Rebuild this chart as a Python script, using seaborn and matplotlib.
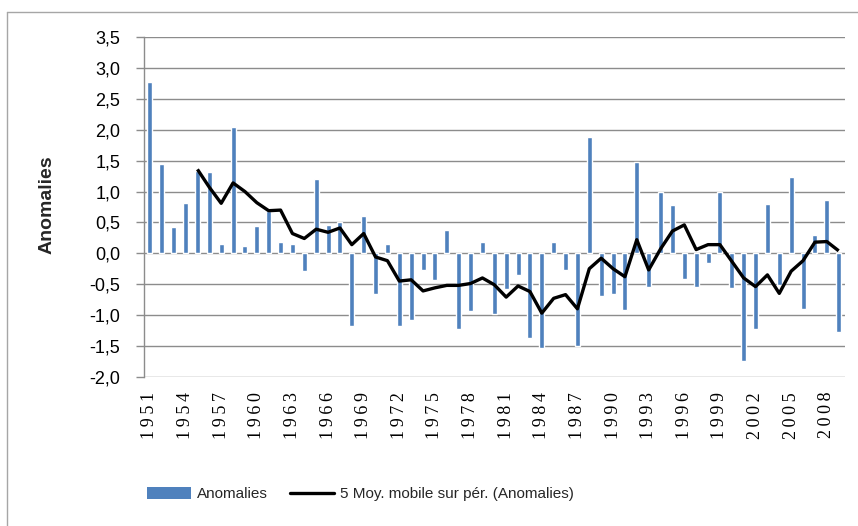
import numpy as np
import pandas as pd
import matplotlib
matplotlib.use("Agg")
import matplotlib.pyplot as plt
from matplotlib.lines import Line2D
import seaborn as sns

# Annual anomalies, 1951-2009
years = list(range(1951, 2010))
anomalies = [
    2.78, 1.44, 0.43, 0.82, 1.34, 1.32, 0.15, 2.05, 0.12, 0.45,
    0.68, 0.18, 0.15, -0.28, 1.21, 0.46, 0.50, -1.18, 0.60, -0.66,
    0.15, -1.18, -1.08, -0.27, -0.43, 0.38, -1.22, -0.93, 0.19, -0.99,
    -0.58, -0.36, -1.37, -1.53, 0.18, -0.27, -1.50, 1.88, -0.69, -0.66,
    -0.92, 1.48, -0.54, 1.00, 0.79, -0.41, -0.54, -0.15, 1.00, -0.57,
    -1.75, -1.22, 0.80, -0.52, 1.23, -0.90, 0.29, 0.86, -1.28,
]

# 5-year moving average, 1955-2009
ma_years = list(range(1955, 2010))
moving_avg = [
    1.36, 1.07, 0.81, 1.14, 1.00, 0.82, 0.69, 0.70, 0.32, 0.24,
    0.39, 0.34, 0.41, 0.14, 0.32, -0.06, -0.12, -0.45, -0.43, -0.61,
    -0.56, -0.52, -0.52, -0.49, -0.40, -0.51, -0.71, -0.53, -0.62, -0.97,
    -0.73, -0.67, -0.90, -0.25, -0.08, -0.25, -0.38, 0.22, -0.27, 0.07,
    0.36, 0.46, 0.06, 0.14, 0.14, -0.13, -0.40, -0.54, -0.35, -0.65,
    -0.29, -0.12, 0.18, 0.19, 0.04,
]

ytick_values = [-2.0, -1.5, -1.0, -0.5, 0.0, 0.5, 1.0, 1.5, 2.0, 2.5, 3.0, 3.5]
ytick_labels = ["-2,0", "-1,5", "-1,0", "-0,5", "0,0", "0,5", "1,0", "1,5",
                "2,0", "2,5", "3,0", "3,5"]
bar_label = "Anomalies"
line_label = "5 Moy. mobile sur pér. (Anomalies)"
y_title = "Anomalies"

sns.set_style("white")
plt.rcParams["font.family"] = ["Liberation Sans", "DejaVu Sans"]

BAR_BLUE = "#4F81BD"
GRID = "#8C8C8C"

W, H = 858, 526
fig = plt.figure(figsize=(W / 100, H / 100), dpi=100)
fig.patch.set_facecolor("white")

x_left, x_right = 144.0, 844.6
y_top, y_bot = 37.3, 376.7
ax = fig.add_axes([x_left / W, (H - y_bot) / H, (x_right - x_left) / W, (y_bot - y_top) / H])

df = pd.DataFrame({"year": [str(y) for y in years], "value": anomalies})
sns.barplot(data=df, x="year", y="value", order=[str(y) for y in years],
            color=BAR_BLUE, saturation=1, width=0.42, ax=ax)

pos = [years.index(y) for y in ma_years]
ax.plot(pos, moving_avg, color="black", lw=2.4, solid_joinstyle="round",
        solid_capstyle="butt", zorder=4)

ax.set_xlim(-0.5, len(years) - 0.5)
ax.set_ylim(-2.0, 3.5)
ax.set_yticks(ytick_values)
ax.set_yticklabels(ytick_labels, family=["Liberation Sans", "DejaVu Sans"], fontsize=13)
ax.yaxis.grid(True, color=GRID, lw=1.0)
ax.set_axisbelow(True)

tick_idx = list(range(0, len(years), 3))
ax.set_xticks(tick_idx)
ax.set_xticklabels(["\u2009".join(str(years[i])) for i in tick_idx], rotation=90,
                   family=["Liberation Serif", "DejaVu Serif"], fontsize=13)
ax.tick_params(axis="x", length=0, pad=11, colors="black")
ax.tick_params(axis="y", length=6, width=1, pad=11, left=True, colors="black")
ax.tick_params(axis="y", color=GRID)

ax.set_xlabel("")
ax.set_ylabel("")
for side in ["top", "right", "bottom"]:
    ax.spines[side].set_visible(False)
ax.spines["left"].set_color(GRID)
ax.spines["left"].set_linewidth(1.0)

fig.text(47 / W, 1 - 205 / H, y_title, rotation=90, ha="center", va="center",
         fontsize=14, fontweight="bold", family=["Liberation Sans", "DejaVu Sans"])

# Legend below the plot
handles = [
    plt.Rectangle((0, 0), 1, 1, facecolor=BAR_BLUE, edgecolor="none"),
    Line2D([0], [0], color="black", lw=2.4),
]
leg = fig.legend(handles, [bar_label, line_label], ncol=2, frameon=False,
                 loc="center left", bbox_to_anchor=(147 / W, 1 - 494 / H),
                 prop={"family": ["Liberation Sans", "DejaVu Sans"], "size": 11},
                 handlelength=2.9, handleheight=0.8, handletextpad=0.4,
                 columnspacing=1.4, borderaxespad=0, borderpad=0)

# Chart area outline (left and top edges)
fig.add_artist(Line2D([7 / W, 7 / W], [0, 1 - 12 / H], transform=fig.transFigure,
                      color="#A6A6A6", lw=1.0))
fig.add_artist(Line2D([7 / W, 1], [1 - 12 / H, 1 - 12 / H], transform=fig.transFigure,
                      color="#A6A6A6", lw=1.0))

fig.savefig("out.png", dpi=100, facecolor="white")
